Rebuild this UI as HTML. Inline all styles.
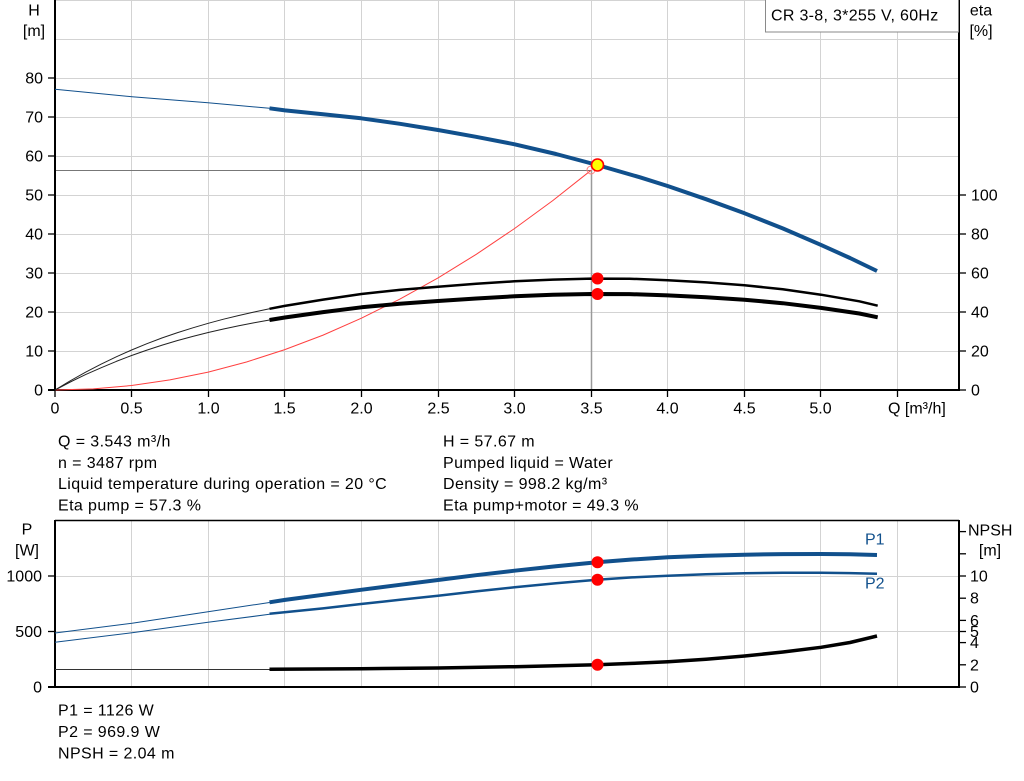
<!DOCTYPE html>
<html><head><meta charset="utf-8">
<style>
html,body{margin:0;padding:0;background:#fff;}
svg{display:block;font-family:"Liberation Sans",Arial,sans-serif;}
text{font-size:16px;fill:#000;}
.t{letter-spacing:0.4px;}
</style></head>
<body>
<svg width="1024" height="781" viewBox="0 0 1024 781" xmlns="http://www.w3.org/2000/svg">
<rect x="0" y="0" width="1024" height="781" fill="#fff"/>
<!-- ===== TOP CHART GRID ===== -->
<g stroke="#d3d3d3" stroke-width="1" fill="none">
  <line x1="55" y1="0.5" x2="959" y2="0.5"/>
  <line x1="55" y1="39.5" x2="959" y2="39.5"/>
  <line x1="55" y1="78.5" x2="959" y2="78.5"/>
  <line x1="55" y1="117.5" x2="959" y2="117.5"/>
  <line x1="55" y1="156.5" x2="959" y2="156.5"/>
  <line x1="55" y1="195.5" x2="959" y2="195.5"/>
  <line x1="55" y1="234.5" x2="959" y2="234.5"/>
  <line x1="55" y1="273.5" x2="959" y2="273.5"/>
  <line x1="55" y1="312.5" x2="959" y2="312.5"/>
  <line x1="55" y1="351.5" x2="959" y2="351.5"/>
  <line x1="131.5" y1="0" x2="131.5" y2="390"/>
  <line x1="208.5" y1="0" x2="208.5" y2="390"/>
  <line x1="284.5" y1="0" x2="284.5" y2="390"/>
  <line x1="361.5" y1="0" x2="361.5" y2="390"/>
  <line x1="438.5" y1="0" x2="438.5" y2="390"/>
  <line x1="514.5" y1="0" x2="514.5" y2="390"/>
  <line x1="591.5" y1="0" x2="591.5" y2="390"/>
  <line x1="667.5" y1="0" x2="667.5" y2="390"/>
  <line x1="744.5" y1="0" x2="744.5" y2="390"/>
  <line x1="820.5" y1="0" x2="820.5" y2="390"/>
  <line x1="897.5" y1="0" x2="897.5" y2="390"/>
</g>
<!-- operating lines -->
<line x1="55" y1="170.5" x2="591" y2="170.5" stroke="#777" stroke-width="1"/>
<line x1="591.5" y1="170" x2="591.5" y2="390" stroke="#9a9a9a" stroke-width="1.5"/>

<!-- axes top -->
<g stroke="#000" stroke-width="2" fill="none">
  <line x1="55" y1="0" x2="55" y2="391"/>
  <line x1="959" y1="0" x2="959" y2="391"/>
  <line x1="48" y1="390" x2="960" y2="390"/>
</g>
<g stroke="#000" stroke-width="1.3">
  <line x1="48" y1="390" x2="55" y2="390"/>
  <line x1="48" y1="351" x2="55" y2="351"/>
  <line x1="48" y1="312" x2="55" y2="312"/>
  <line x1="48" y1="273" x2="55" y2="273"/>
  <line x1="48" y1="234" x2="55" y2="234"/>
  <line x1="48" y1="195" x2="55" y2="195"/>
  <line x1="48" y1="156" x2="55" y2="156"/>
  <line x1="48" y1="117" x2="55" y2="117"/>
  <line x1="48" y1="78" x2="55" y2="78"/>
  <line x1="959" y1="390" x2="966" y2="390"/>
  <line x1="959" y1="351" x2="966" y2="351"/>
  <line x1="959" y1="312" x2="966" y2="312"/>
  <line x1="959" y1="273" x2="966" y2="273"/>
  <line x1="959" y1="234" x2="966" y2="234"/>
  <line x1="959" y1="195" x2="966" y2="195"/>
  <line x1="55" y1="390" x2="55" y2="397"/>
  <line x1="131.5" y1="390" x2="131.5" y2="397"/>
  <line x1="208.5" y1="390" x2="208.5" y2="397"/>
  <line x1="284.5" y1="390" x2="284.5" y2="397"/>
  <line x1="361.5" y1="390" x2="361.5" y2="397"/>
  <line x1="438.5" y1="390" x2="438.5" y2="397"/>
  <line x1="514.5" y1="390" x2="514.5" y2="397"/>
  <line x1="591.5" y1="390" x2="591.5" y2="397"/>
  <line x1="667.5" y1="390" x2="667.5" y2="397"/>
  <line x1="744.5" y1="390" x2="744.5" y2="397"/>
  <line x1="820.5" y1="390" x2="820.5" y2="397"/>
  <line x1="897.5" y1="390" x2="897.5" y2="397"/>
</g>

<!-- top axis labels -->
<g text-anchor="end">
  <text x="43" y="395.5">0</text>
  <text x="43" y="356.5">10</text>
  <text x="43" y="317.5">20</text>
  <text x="43" y="278.5">30</text>
  <text x="43" y="239.5">40</text>
  <text x="43" y="200.5">50</text>
  <text x="43" y="161.5">60</text>
  <text x="43" y="122.5">70</text>
  <text x="43" y="83.5">80</text>
</g>
<text x="34" y="15.5" text-anchor="middle">H</text>
<text x="34" y="36" text-anchor="middle">[m]</text>
<text x="981" y="15.5" text-anchor="middle">eta</text>
<text x="981" y="36" text-anchor="middle">[%]</text>
<g>
  <text x="971" y="395.5">0</text>
  <text x="971" y="356.5">20</text>
  <text x="971" y="317.5">40</text>
  <text x="971" y="278.5">60</text>
  <text x="971" y="239.5">80</text>
  <text x="971" y="200.5">100</text>
</g>
<g text-anchor="middle">
  <text x="55" y="413.5">0</text>
  <text x="131.5" y="413.5">0.5</text>
  <text x="208.5" y="413.5">1.0</text>
  <text x="284.5" y="413.5">1.5</text>
  <text x="361.5" y="413.5">2.0</text>
  <text x="438.5" y="413.5">2.5</text>
  <text x="514.5" y="413.5">3.0</text>
  <text x="591.5" y="413.5">3.5</text>
  <text x="667.5" y="413.5">4.0</text>
  <text x="744.5" y="413.5">4.5</text>
  <text x="820.5" y="413.5">5.0</text>
</g>
<text x="888" y="413.5">Q [m³/h]</text>

<!-- legend box -->
<rect x="765.5" y="-1" width="193" height="33" fill="#fff" stroke="#8a8a8a" stroke-width="1"/>
<text x="771" y="20.5" style="letter-spacing:0.3px">CR 3-8, 3*255 V, 60Hz</text>

<!-- red system curve -->
<polyline fill="none" stroke="#ff4040" stroke-width="1" points="55,390 93.3,388.9 131.6,385.5 169.9,379.9 208.2,372.1 246.5,362 284.8,349.6 323.1,335.1 361.4,318.2 399.7,299.2 438,277.9 476.3,254.3 514.6,228.5 552.9,200.5 591.2,170.2"/>
<circle cx="591" cy="170" r="4" fill="none" stroke="#ff8080" stroke-width="1"/>

<!-- H curve -->
<polyline fill="none" stroke="#11508c" stroke-width="1" points="55,89.3 132,96.7 208,102.7 269.5,108.3"/>
<polyline fill="none" stroke="#11508c" stroke-width="4" stroke-linejoin="round" points="269.5,108.3 285,110.4 323,114.2 361,118.3 400,123.8 438,130 476,136.8 514.6,144.3 556,154 597.3,165 640,177.3 668,186.1 706,199.2 744.6,213.3 783,228.5 821,244.9 850,258 877,271"/>

<!-- eta curves -->
<polyline fill="none" stroke="#222" stroke-width="1" stroke-linejoin="round" points="55,390 70.3,380.75 85.6,372.15 101,364.2 116.3,356.8 131.6,350 146.9,343.7 162.2,337.9 177.6,332.6 192.9,327.8 208.2,323.3 223.5,319.2 238.8,315.5 254.2,312 269.5,308.8"/>
<polyline fill="none" stroke="#000" stroke-width="2.5" stroke-linejoin="round" points="269.5,308.8 284.8,305.9 323.1,299.6 361.4,294 399.7,289.9 438,286.7 476.3,283.8 514.6,281.3 552.9,279.6 591.2,278.6 629.5,278.7 667.8,280.3 706.1,282.4 744.4,285.2 782.7,289.3 821,294.7 859.3,301.3 877.7,305.7"/>
<polyline fill="none" stroke="#222" stroke-width="1" stroke-linejoin="round" points="55,390 70.3,382 85.6,374.6 101,367.8 116.3,361.4 131.6,355.5 146.9,350.1 162.2,345.1 177.6,340.5 192.9,336.4 208.2,332.5 223.5,329 238.8,325.8 254.2,322.8 269.5,320"/>
<polyline fill="none" stroke="#000" stroke-width="4" stroke-linejoin="round" points="269.5,320 284.8,317.5 323.1,312.1 361.4,307.3 399.7,303.7 438,301 476.3,298.5 514.6,296.3 552.9,294.8 591.2,294 629.5,294.1 667.8,295.4 706.1,297.25 744.4,299.7 782.7,303.2 821,307.9 859.3,313.5 877.7,317.3"/>

<!-- operating points top -->
<circle cx="597.5" cy="278.5" r="6" fill="#ff0000"/>
<circle cx="597.5" cy="294" r="6" fill="#ff0000"/>
<circle cx="597.5" cy="165" r="6" fill="#ffff00" stroke="#ff0000" stroke-width="1.6"/>

<!-- info text -->
<g class="t">
  <text x="58" y="446.5">Q = 3.543 m³/h</text>
  <text x="58" y="467.8">n = 3487 rpm</text>
  <text x="58" y="489.1">Liquid temperature during operation = 20 °C</text>
  <text x="58" y="510.5">Eta pump = 57.3 %</text>
  <text x="443" y="446.5">H = 57.67 m</text>
  <text x="443" y="467.8">Pumped liquid = Water</text>
  <text x="443" y="489.1">Density = 998.2 kg/m³</text>
  <text x="443" y="510.5">Eta pump+motor = 49.3 %</text>
</g>

<!-- ===== BOTTOM CHART ===== -->
<g stroke="#d3d3d3" stroke-width="1" fill="none">
  <line x1="55" y1="631.5" x2="959" y2="631.5"/>
  <line x1="55" y1="576.5" x2="959" y2="576.5"/>
  <line x1="131.5" y1="520" x2="131.5" y2="687"/>
  <line x1="208.5" y1="520" x2="208.5" y2="687"/>
  <line x1="284.5" y1="520" x2="284.5" y2="687"/>
  <line x1="361.5" y1="520" x2="361.5" y2="687"/>
  <line x1="438.5" y1="520" x2="438.5" y2="687"/>
  <line x1="514.5" y1="520" x2="514.5" y2="687"/>
  <line x1="591.5" y1="520" x2="591.5" y2="687"/>
  <line x1="667.5" y1="520" x2="667.5" y2="687"/>
  <line x1="744.5" y1="520" x2="744.5" y2="687"/>
  <line x1="820.5" y1="520" x2="820.5" y2="687"/>
  <line x1="897.5" y1="520" x2="897.5" y2="687"/>
</g>
<g stroke="#000" stroke-width="2" fill="none">
  <line x1="55" y1="520" x2="55" y2="688"/>
  <line x1="959" y1="520" x2="959" y2="688"/>
  <line x1="48" y1="687" x2="960" y2="687"/>
  <line x1="55" y1="520.5" x2="959" y2="520.5" stroke-width="1.5"/>
</g>
<g stroke="#000" stroke-width="1.3">
  <line x1="48" y1="687" x2="55" y2="687"/>
  <line x1="48" y1="631.5" x2="55" y2="631.5"/>
  <line x1="48" y1="576" x2="55" y2="576"/>
  <line x1="959" y1="687" x2="966" y2="687"/>
  <line x1="959" y1="664.8" x2="966" y2="664.8"/>
  <line x1="959" y1="642.6" x2="966" y2="642.6"/>
  <line x1="959" y1="631.5" x2="966" y2="631.5"/>
  <line x1="959" y1="620.4" x2="966" y2="620.4"/>
  <line x1="959" y1="598.2" x2="966" y2="598.2"/>
  <line x1="959" y1="576" x2="966" y2="576"/>
  <line x1="959" y1="553.8" x2="966" y2="553.8"/>
  <line x1="959" y1="531.6" x2="966" y2="531.6"/>
</g>
<g text-anchor="end">
  <text x="42" y="692.5">0</text>
  <text x="42" y="637">500</text>
  <text x="42" y="581.5">1000</text>
</g>
<text x="27" y="534.5" text-anchor="middle">P</text>
<text x="27" y="555.5" text-anchor="middle">[W]</text>
<g>
  <text x="970" y="692.5">0</text>
  <text x="970" y="670.3">2</text>
  <text x="970" y="648.1">4</text>
  <text x="970" y="637">5</text>
  <text x="970" y="625.9">6</text>
  <text x="970" y="603.7">8</text>
  <text x="970" y="581.5">10</text>
  <text x="990" y="555.5" text-anchor="middle">[m]</text>
  <text x="968" y="535.5">NPSH</text>
</g>

<!-- P1 -->
<polyline fill="none" stroke="#11508c" stroke-width="1" points="55,633 132,623.3 208,611.7 269.5,602.5"/>
<polyline fill="none" stroke="#11508c" stroke-width="4" stroke-linejoin="round" points="269.5,602.3 285,599.9 323,594.8 361,589.8 400,584.8 438,580 476,575.2 514.6,570.7 556,566.3 597,562.3 632,559.5 668,557.3 706,555.7 744.6,554.7 783,554.1 821,554 850,554.3 877,555"/>
<!-- P2 -->
<polyline fill="none" stroke="#11508c" stroke-width="1" points="55,642.3 132,632.7 208,622.3 269.5,614.3"/>
<polyline fill="none" stroke="#11508c" stroke-width="2.5" stroke-linejoin="round" points="269.5,613.8 323,608.4 361,604 400,599.8 438,595.7 476,591.4 514.6,587.3 556,583.3 597,579.7 632,577.4 668,575.7 706,574.2 744.6,573.2 783,572.7 821,572.7 850,573.1 877,573.7"/>
<!-- NPSH -->
<polyline fill="none" stroke="#333" stroke-width="1" points="55,669.5 269.5,669.5"/>
<polyline fill="none" stroke="#000" stroke-width="3.5" stroke-linejoin="round" points="269.5,669.3 361,668.7 438,668 514.6,666.7 556,665.8 597,664.7 632,663.4 668,661.7 706,659.2 744.6,656 783,652 821,647.3 850,642.5 877,636"/>

<circle cx="597.5" cy="562.3" r="6" fill="#ff0000"/>
<circle cx="597.5" cy="579.7" r="6" fill="#ff0000"/>
<circle cx="597.5" cy="664.7" r="6" fill="#ff0000"/>

<text x="865" y="544.5" style="fill:#11508c">P1</text>
<text x="865" y="588.5" style="fill:#11508c">P2</text>

<g class="t">
  <text x="58" y="715.5">P1 = 1126 W</text>
  <text x="58" y="737">P2 = 969.9 W</text>
  <text x="58" y="758.5">NPSH = 2.04 m</text>
</g>
</svg>
</body></html>
